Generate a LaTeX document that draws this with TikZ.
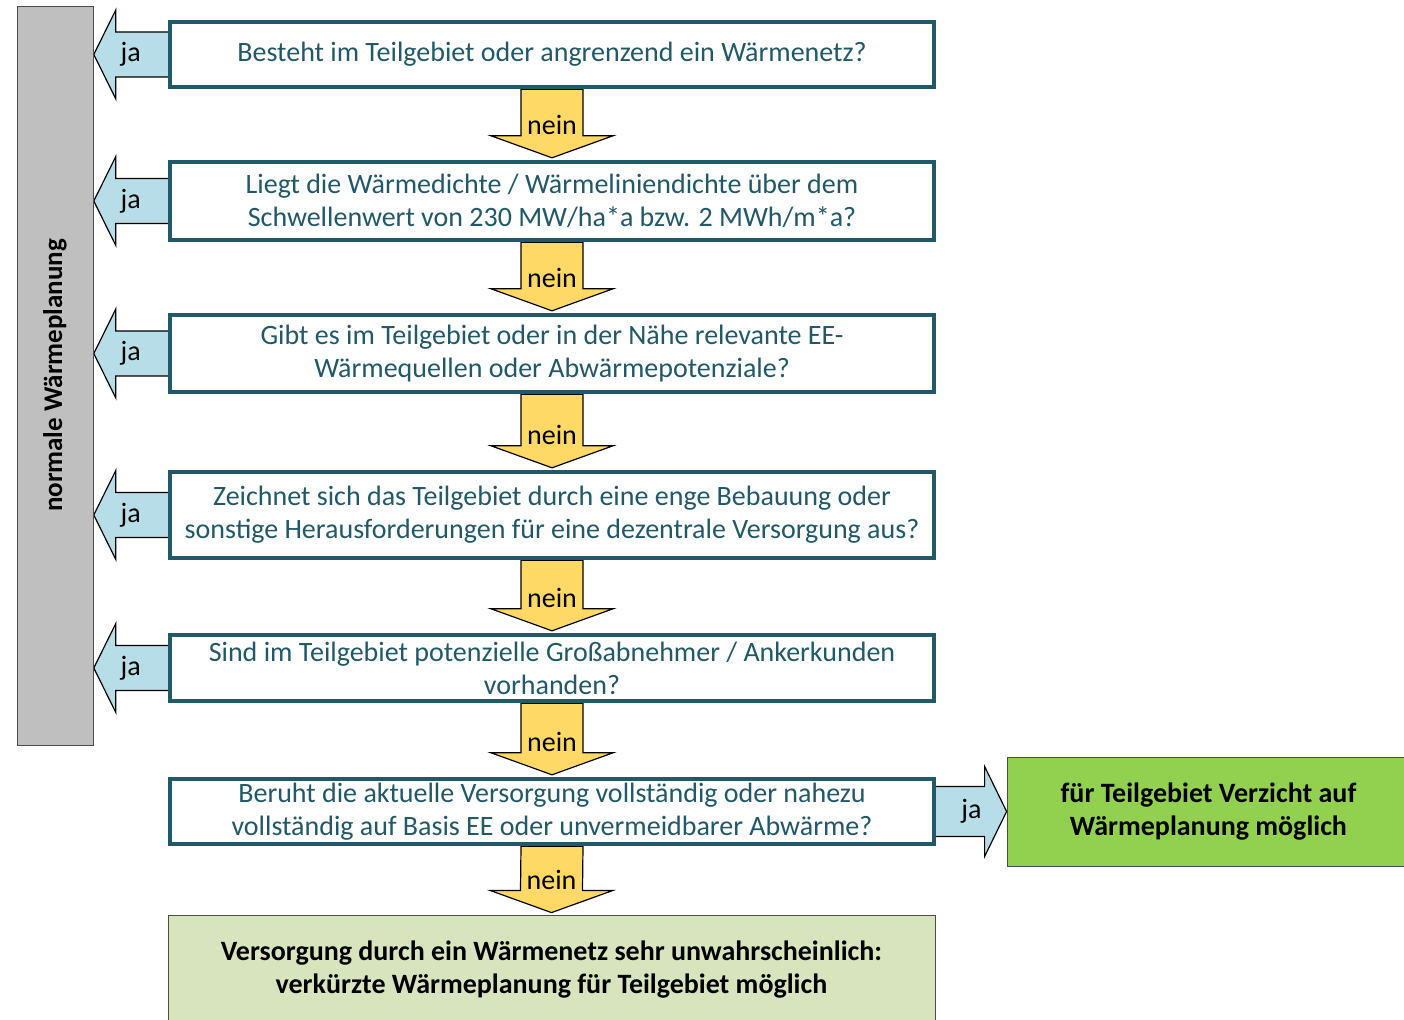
\documentclass[tikz,border=0pt]{standalone}
\usepackage{fontspec}
\setmainfont{Carlito}
\usetikzlibrary{calc,backgrounds}
\definecolor{petrol}{RGB}{33,89,104}
\definecolor{hellblau}{RGB}{183,222,232}
\definecolor{gelb}{RGB}{255,217,102}
\definecolor{gruen}{RGB}{146,208,80}
\definecolor{blassgruen}{RGB}{215,228,189}
\definecolor{grau}{RGB}{191,191,191}

\begin{document}
\begin{tikzpicture}[x=0.5pt,y=-0.5pt,
  every node/.style={font=\fontsize{14pt}{16.5pt}\selectfont},
  frage/.style={draw=petrol,line width=2.2pt,fill=white,text=petrol,align=center,
    minimum width=382pt,inner sep=0pt},
  ergebnis/.style={draw=black!70,line width=0.4pt,align=center,inner sep=0pt,
    font=\fontsize{14pt}{16.5pt}\selectfont\bfseries},
  japfeil/.style={draw=black,line width=0.6pt,fill=hellblau},
  neinpfeil/.style={draw=black,line width=0.6pt,fill=gelb}]
\useasboundingbox (0,0) rectangle (1404,1020);

% linke Leiste
\node[ergebnis,fill=grau,minimum width=38pt,minimum height=369.5pt] (normal) at (55,375.5) {};
\node[rotate=90,font=\fontsize{13.5pt}{16.5pt}\selectfont\bfseries] (normaltext) at (normal.center) {normale Wärmeplanung};

% Fragen
\node[frage,minimum height=32.5pt] (b1) at (552,54.5) {Besteht im Teilgebiet oder angrenzend ein Wärmenetz?};
\node[frage,minimum height=39pt] (b2) at (552,201) {Liegt die Wärmedichte / Wärmeliniendichte über dem\\Schwellenwert von 230 MW/ha*a bzw. 2 MWh/m*a?};
\node[frage,minimum height=38.5pt] (b3) at (552,353.5) {Gibt es im Teilgebiet oder in der Nähe relevante EE-\\Wärmequellen oder Abwärmepotenziale?};
\node[frage,minimum height=43pt] (b4) at (552,515) {Zeichnet sich das Teilgebiet durch eine enge Bebauung oder\\sonstige Herausforderungen für eine dezentrale Versorgung aus?};
\node[frage,minimum height=33pt] (b5) at (552,668) {Sind im Teilgebiet potenzielle Großabnehmer / Ankerkunden\\vorhanden?};
\node[frage,minimum height=32.5pt] (b6) at (552,811.5) {Beruht die aktuelle Versorgung vollständig oder nahezu\\vollständig auf Basis EE oder unvermeidbarer Abwärme?};

% Ergebnisse
\node[ergebnis,fill=gruen,minimum width=201.5pt,minimum height=54.5pt] (verzicht) at (1208.5,811.5) {für Teilgebiet Verzicht auf\\Wärmeplanung möglich};
\node[ergebnis,fill=blassgruen,minimum width=383.5pt,minimum height=55pt] (verkuerzt) at (551.5,970) {Versorgung durch ein Wärmenetz sehr unwahrscheinlich:\\verkürzte Wärmeplanung für Teilgebiet möglich};

% Pfeile
\begin{scope}[on background layer]
\foreach \f in {b1,b2,b3,b4,b5} {
  \draw[japfeil] ($(\f.west)+(2,-22.5)$) -- ++(-54,0) -- ++(0,-22) -- ++(-22,44.5)
    -- ++(22,44.5) -- ++(0,-22) -- ++(54,0) -- cycle;
  \node (ja-\f) at ($(\f.west)+(-37,0)$) {ja};
}
\foreach \a/\b in {b1/b2,b2/b3,b3/b4,b4/b5,b5/b6,b6/verkuerzt} {
  \draw[neinpfeil] ($(\a.south)+(-31,0)$) -- ($(\b.north)+(-31,-24)$) -- ($(\b.north)+(-61,-24)$)
    -- ($(\b.north)+(0,-2)$) -- ($(\b.north)+(61,-24)$) -- ($(\b.north)+(31,-24)$)
    -- ($(\a.south)+(31,0)$) -- cycle;
  \node (nein-\a) at ($(\b.north)+(0,-35)$) {nein};
}
\draw[japfeil] ($(b6.east)+(-2,-25)$) -- ($(verzicht.west)+(-22,-25)$) -- ($(verzicht.west)+(-22,-45)$)
  -- (verzicht.west) -- ($(verzicht.west)+(-22,45)$) -- ($(verzicht.west)+(-22,25)$)
  -- ($(b6.east)+(-2,25)$) -- cycle;
\end{scope}
\node (ja-b6) at ($(b6.east)!0.5!(verzicht.west)$) {ja};
\end{tikzpicture}
\end{document}
